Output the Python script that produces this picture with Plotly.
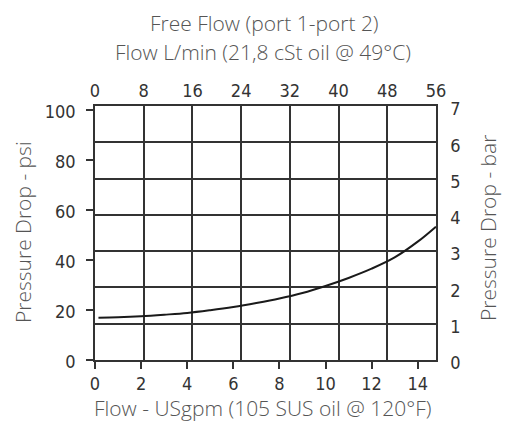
import plotly.graph_objects as go

# Data
flow_gpm = [0.15, 1, 2, 3, 4, 5, 6, 7, 8, 9, 10, 11, 12, 13, 14, 14.79]
dp_psi = [16.9, 17.1, 17.5, 18.1, 18.8, 19.9, 21.2, 22.8, 24.6, 26.8, 29.6, 32.8, 36.5, 41.0, 47.3, 53.3]

gpm_ticks = [0, 2, 4, 6, 8, 10, 12, 14]
lpm_ticks = [0, 8, 16, 24, 32, 40, 48, 56]
psi_ticks = [0, 20, 40, 60, 80, 100]
bar_ticks = [0, 1, 2, 3, 4, 5, 6, 7]

LPM_PER_GPM = 3.785411784
PSI_PER_BAR = 14.5037738
x_max_lpm = 56
x_max_gpm = x_max_lpm / LPM_PER_GPM
y_max_bar = 7
y_max_psi = y_max_bar * PSI_PER_BAR

W, H = 510, 424
L, R, T, B = 95, 74, 106, 64
PW, PH = W - L - R, H - T - B

TICK_FONT = dict(family="DejaVu Sans Condensed, Liberation Sans Narrow, Roboto, sans-serif", size=18, color="#333333")
TITLE_FONT = dict(family="Open Sans, Liberation Sans, sans-serif", size=21, color="#555555", weight=300)
LINE = "#333333"

fig = go.Figure()
fig.add_trace(go.Scatter(x=flow_gpm, y=dp_psi, mode="lines",
                         line=dict(color="#1a1a1a", width=2, shape="spline"),
                         showlegend=False, hoverinfo="skip"))
# invisible trace to activate the secondary axes
fig.add_trace(go.Scatter(x=[0, x_max_lpm], y=[0, y_max_bar], xaxis="x2", yaxis="y2",
                         mode="markers", marker=dict(opacity=0), showlegend=False, hoverinfo="skip"))


def px_x(px):
    return (px - L) / PW


def px_y(py):
    return (H - B - py) / PH


fig.update_layout(
    width=W, height=H,
    margin=dict(l=L, r=R, t=T, b=B, autoexpand=False),
    plot_bgcolor="white", paper_bgcolor="white",
    xaxis=dict(range=[0, x_max_gpm], tickvals=gpm_ticks, ticks="outside", ticklen=7,
               tickcolor=LINE, tickwidth=1.5, showgrid=False, zeroline=False, automargin=False,
               showline=True, linecolor=LINE, linewidth=1.5, tickfont=TICK_FONT,
               ticklabelstandoff=0),
    xaxis2=dict(range=[0, x_max_lpm], tickvals=lpm_ticks, overlaying="x", side="top",
                ticks="", showgrid=True, gridcolor=LINE, gridwidth=1.5, zeroline=False,
                automargin=False, showline=True, linecolor=LINE, linewidth=1.5,
                tickfont=TICK_FONT, ticklabelstandoff=0),
    yaxis=dict(range=[0, y_max_psi], tickvals=psi_ticks, ticks="outside", ticklen=7,
               tickcolor=LINE, tickwidth=1.5, showgrid=False, zeroline=False, automargin=False,
               showline=True, linecolor=LINE, linewidth=1.5, tickfont=TICK_FONT,
               ticklabelstandoff=7, ticklabelshift=2),
    yaxis2=dict(range=[0, y_max_bar], tickvals=bar_ticks, overlaying="y", side="right",
                ticks="", showgrid=True, gridcolor=LINE, gridwidth=1.5, zeroline=False,
                automargin=False, showline=True, linecolor=LINE, linewidth=1.5,
                tickfont=TICK_FONT, ticklabelstandoff=9, ticklabelshift=3),
    annotations=[
        dict(text="Free Flow (port 1-port 2)", xref="paper", yref="paper",
             x=px_x(264), y=px_y(23), xanchor="center", yanchor="middle",
             showarrow=False, font=TITLE_FONT),
        dict(text="Flow L/min (21,8 cSt oil @ 49°C)", xref="paper", yref="paper",
             x=px_x(263), y=px_y(52), xanchor="center", yanchor="middle",
             showarrow=False, font=TITLE_FONT),
        dict(text="Flow - USgpm (105 SUS oil @ 120°F)", xref="paper", yref="paper",
             x=px_x(263), y=px_y(408), xanchor="center", yanchor="middle",
             showarrow=False, font=TITLE_FONT),
        dict(text="Pressure Drop - psi", xref="paper", yref="paper", textangle=-90,
             x=px_x(23), y=px_y(232), xanchor="center", yanchor="middle",
             showarrow=False, font=TITLE_FONT),
        dict(text="Pressure Drop - bar", xref="paper", yref="paper", textangle=-90,
             x=px_x(488), y=px_y(228), xanchor="center", yanchor="middle",
             showarrow=False, font=TITLE_FONT),
    ],
)

fig.write_html("out.html", config={"displayModeBar": False},
               post_script="document.body.style.margin='0';document.body.style.padding='0';")
